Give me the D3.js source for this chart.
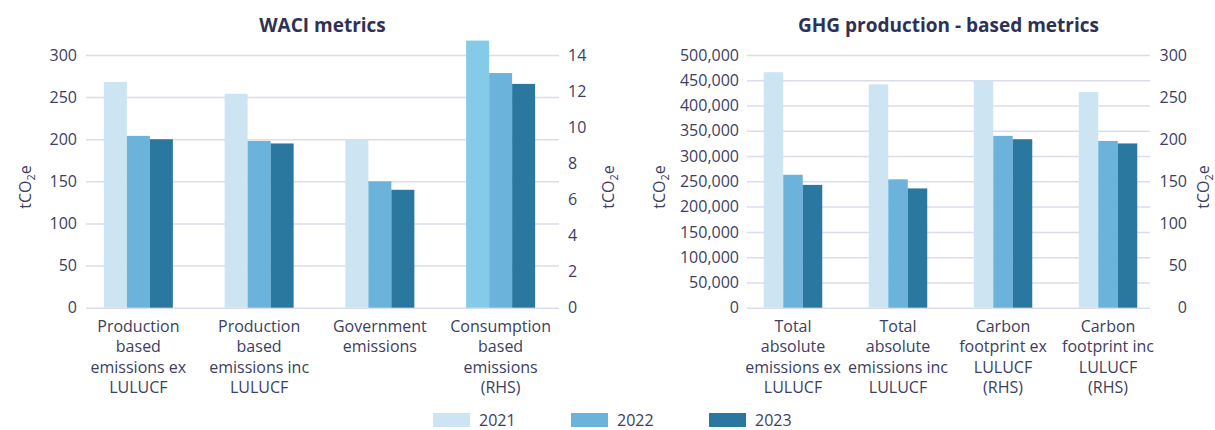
<!DOCTYPE html>
<html>
<head>
<meta charset="utf-8">
<script src="https://cdn.jsdelivr.net/npm/d3@7"></script>
<style>
	body { margin: 0; background: #fff; }
	text { font-family: "Open Sans", "Noto Sans", sans-serif; fill: #3c3e62; }
</style>
</head>
<body>
<div id="chart-area"></div>
<script>
// data
var years = ["2021", "2022", "2023"];

var waciCategories = ["Production|based|emissions ex|LULUCF", "Production|based|emissions inc|LULUCF",
	"Government|emissions", "Consumption|based|emissions|(RHS)"];
var waci2021 = [268, 254, 200, 14.8];
var waci2022 = [204, 198, 150, 13.0];
var waci2023 = [200, 195, 140, 12.4];
var waciRhs = [false, false, false, true];
var waciLeftTicks = [0, 50, 100, 150, 200, 250, 300];
var waciRightTicks = [0, 2, 4, 6, 8, 10, 12, 14];

var ghgCategories = ["Total|absolute|emissions ex|LULUCF", "Total|absolute|emissions inc|LULUCF",
	"Carbon|footprint ex|LULUCF|(RHS)", "Carbon|footprint inc|LULUCF|(RHS)"];
var ghg2021 = [466000, 442000, 270, 256];
var ghg2022 = [263000, 254000, 204, 198];
var ghg2023 = [243000, 236000, 200, 195];
var ghgRhs = [false, false, true, true];
var ghgLeftTicks = [0, 50000, 100000, 150000, 200000, 250000, 300000, 350000, 400000, 450000, 500000];
var ghgRightTicks = [0, 50, 100, 150, 200, 250, 300];

var colors = { "2021": "#cde5f3", "2022": "#6bb3da", "2023": "#2a78a0" };
var rhsHighlight = "#84cbea"; // consumption 2021 bar is a brighter blue

var svg = d3.select("#chart-area")
	.append("svg")
		.attr("width", 1215)
		.attr("height", 430);

var top0 = 55, bottom0 = 307.7;

function drawPanel(p) {
	var g = svg.append("g");

	var x = d3.scaleBand()
		.domain(p.categories)
		.range(p.bandRange);
	var x1 = d3.scaleBand()
		.domain(years)
		.range([-p.barSpan / 2, p.barSpan / 2]);

	var yL = d3.scaleLinear().domain([0, d3.max(p.leftTicks)]).range([bottom0, top0]);
	var yR = d3.scaleLinear().domain([0, d3.max(p.rightTicks)]).range([bottom0, top0]);

	// gridlines
	var grid = g.append("g")
		.attr("transform", "translate(" + p.gridStart + ",0)")
		.call(d3.axisLeft(yL).tickValues(p.leftTicks).tickSize(-(p.gridEnd - p.gridStart)).tickFormat(""));
	grid.select(".domain").remove();
	grid.selectAll("line").attr("stroke", "#dcdcec").attr("stroke-width", 1.5);

	// left axis labels
	var la = g.append("g")
		.attr("transform", "translate(" + p.gridStart + ",0)")
		.call(d3.axisLeft(yL).tickValues(p.leftTicks).tickSize(0).tickPadding(p.leftPad)
			.tickFormat(d3.format(",")));
	la.select(".domain").remove();
	la.selectAll("text").attr("font-size", "16px").attr("fill", "#3c3e62")
		.style("font-family", "'Open Sans', sans-serif");

	// right axis labels
	var ra = g.append("g")
		.attr("transform", "translate(" + p.rightX + ",0)")
		.call(d3.axisRight(yR).tickValues(p.rightTicks).tickSize(0).tickPadding(0));
	ra.select(".domain").remove();
	ra.selectAll("text").attr("font-size", "16px").attr("fill", "#3c3e62")
		.attr("text-anchor", p.rightAnchor)
		.style("font-family", "'Open Sans', sans-serif");

	// bars
	var rows = [];
	p.categories.forEach(function(c, i){
		years.forEach(function(yr, k){
			rows.push({ cat: c, year: yr, value: p.series[k][i], rhs: p.rhs[i] });
		});
	});

	g.selectAll("rect.bar")
		.data(rows)
		.enter()
		.append("rect")
			.attr("class", "bar")
			.attr("x", function(d){ return x(d.cat) + x.bandwidth() / 2 + x1(d.year); })
			.attr("width", x1.bandwidth())
			.attr("y", function(d){ return (d.rhs ? yR : yL)(d.value); })
			.attr("height", function(d){ return bottom0 - (d.rhs ? yR : yL)(d.value); })
			.attr("fill", function(d){
				if (p.highlight && d.rhs && d.year == "2021") return rhsHighlight;
				return colors[d.year];
			});

	// category labels
	var cl = g.selectAll("text.cat")
		.data(p.categories)
		.enter()
		.append("text")
			.attr("class", "cat")
			.attr("text-anchor", "middle")
			.attr("font-size", "16px")
			.attr("y", 331.5);
	cl.each(function(d){
		var t = d3.select(this);
		d.split("|").forEach(function(line, j){
			t.append("tspan")
				.attr("x", x(d) + x.bandwidth() / 2)
				.attr("y", 331.5 + j * 20.5)
				.text(line);
		});
	});

	// title
	g.append("text")
		.attr("x", (p.gridStart + p.gridEnd) / 2)
		.attr("y", 31.5)
		.attr("text-anchor", "middle")
		.attr("font-size", "19px")
		.attr("font-weight", "bold")
		.style("fill", "#2e3058")
		.text(p.title);

	// unit labels
	p.unitX.forEach(function(ux){
		var t = g.append("text")
			.attr("transform", "translate(" + ux + ",187) rotate(-90)")
			.attr("text-anchor", "middle")
			.attr("font-size", "16px");
		t.append("tspan").text("tCO");
		t.append("tspan").attr("font-size", "11px").attr("dy", 4).text("2");
		t.append("tspan").attr("dy", -4).text("e");
	});
}

drawPanel({
	title: "WACI metrics",
	categories: waciCategories,
	series: [waci2021, waci2022, waci2023],
	rhs: waciRhs,
	leftTicks: waciLeftTicks,
	rightTicks: waciRightTicks,
	bandRange: [78, 561],
	barSpan: 69,
	gridStart: 86, gridEnd: 559,
	leftPad: 9,
	rightX: 568, rightAnchor: "start",
	unitX: [31, 614],
	highlight: true
});

drawPanel({
	title: "GHG production - based metrics",
	categories: ghgCategories,
	series: [ghg2021, ghg2022, ghg2023],
	rhs: ghgRhs,
	leftTicks: ghgLeftTicks,
	rightTicks: ghgRightTicks,
	bandRange: [740.5, 1160.5],
	barSpan: 58.5,
	gridStart: 747, gridEnd: 1150,
	leftPad: 8,
	rightX: 1187, rightAnchor: "end",
	unitX: [665, 1209],
	highlight: false
});

// legend
var lx = d3.scalePoint().domain(years).range([433, 709]);
var legend = svg.selectAll("g.legend")
	.data(years)
	.enter()
	.append("g")
		.attr("class", "legend")
		.attr("transform", function(d){ return "translate(" + lx(d) + ",413)"; });
legend.append("rect")
	.attr("width", 37)
	.attr("height", 14)
	.attr("fill", function(d){ return colors[d]; });
legend.append("text")
	.attr("x", 46)
	.attr("y", 13)
	.attr("font-size", "16px")
	.text(function(d){ return d; });
</script>
</body>
</html>
